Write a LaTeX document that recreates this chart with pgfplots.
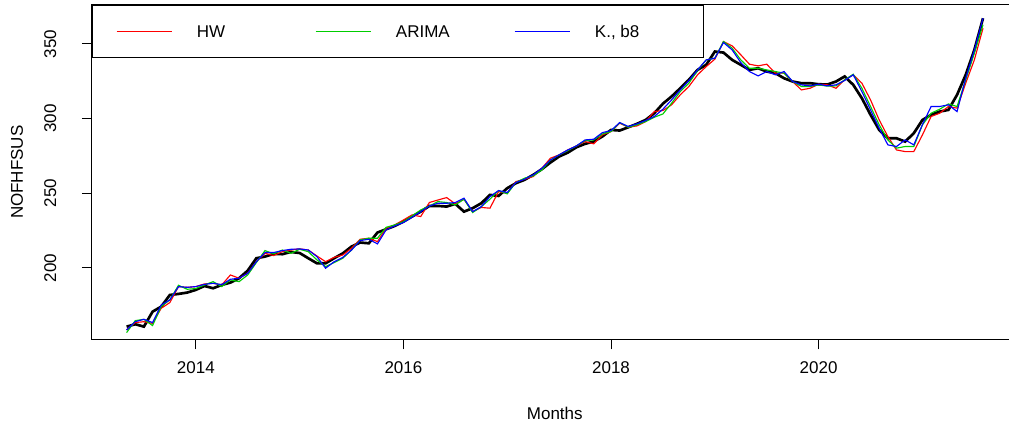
\documentclass[border=0pt]{standalone}
\usepackage{fontspec}
\setmainfont{Liberation Sans}
\usepackage{xcolor}
\usepackage{pgfplots}
\usepackage{pgfplotstable}
\pgfplotsset{compat=1.18}
\definecolor{rred}{RGB}{255,0,0}
\definecolor{rgreen}{RGB}{0,205,0}
\definecolor{rblue}{RGB}{0,0,255}

% i = month index (0 = May 2013); A = actual, H = HW, G = ARIMA, K = K., b8
\pgfplotstableread{
i A H G K
0 160.7 158.5 156.7 158.5
1 162.3 163.4 164.7 164.0
2 160.7 164.0 165.6 165.6
3 170.7 162.9 161.4 163.4
4 174.1 173.0 174.1 175.2
5 181.9 176.8 178.6 178.6
6 182.6 187.5 188.4 187.5
7 183.5 187.0 185.7 187.0
8 185.3 187.5 186.2 187.5
9 187.9 189.3 188.6 189.0
10 186.4 189.7 190.8 189.7
11 188.6 188.6 187.5 188.8
12 190.2 195.3 192.0 192.4
13 193.1 193.1 190.8 193.1
14 198.2 196.4 195.3 196.4
15 206.5 204.2 203.6 204.2
16 207.6 209.8 211.6 210.3
17 209.4 208.3 209.4 210.3
18 209.2 210.9 212.0 211.6
19 210.7 212.0 209.8 212.5
20 210.0 212.8 212.5 212.7
21 206.5 212.0 210.9 212.0
22 203.1 208.0 205.4 207.6
23 203.1 204.2 200.9 199.8
24 206.5 207.1 203.6 204.2
25 209.8 208.7 206.5 207.1
26 214.3 213.2 212.0 212.0
27 217.0 219.2 218.8 218.3
28 216.5 219.9 219.9 219.2
29 223.7 217.6 219.9 216.1
30 225.9 226.6 227.2 225.5
31 228.1 228.8 228.8 228.1
32 231.0 232.1 231.0 230.4
33 234.4 235.5 234.8 233.9
34 237.7 234.4 238.8 237.7
35 241.5 243.8 241.5 241.5
36 241.5 245.5 244.4 243.3
37 241.1 247.1 243.8 243.3
38 242.9 242.9 242.2 243.8
39 237.7 246.0 246.0 246.7
40 240.0 237.7 237.1 237.7
41 243.3 240.5 241.0 241.0
42 248.9 240.0 246.0 247.8
43 248.2 251.1 251.8 251.8
44 253.4 250.0 249.6 250.5
45 256.7 257.8 257.2 257.2
46 259.0 259.4 260.1 259.4
47 262.3 261.2 261.6 262.3
48 266.1 266.7 265.6 266.7
49 270.6 273.5 272.3 272.3
50 274.6 275.7 275.7 275.7
51 277.2 279.0 278.6 279.0
52 280.8 281.7 281.7 281.7
53 283.1 284.6 285.3 285.7
54 284.6 283.1 285.7 286.2
55 288.0 289.1 289.7 290.6
56 292.4 291.3 291.3 292.0
57 292.0 296.9 297.3 297.3
58 294.2 294.2 294.2 294.7
59 296.5 295.1 295.8 296.5
60 299.1 298.0 298.0 298.7
61 303.6 304.7 300.9 301.4
62 310.0 305.4 303.1 306.3
63 314.8 309.2 310.3 312.5
64 320.3 315.9 318.1 319.2
65 326.0 321.5 323.7 325.5
66 332.6 329.3 332.2 332.6
67 336.0 334.8 339.3 339.3
68 344.9 339.8 340.4 340.4
69 344.2 351.6 351.6 350.9
70 339.3 348.7 347.1 346.0
71 336.0 342.7 339.3 337.5
72 332.6 336.4 333.7 331.5
73 333.7 335.3 333.7 328.6
74 331.5 336.4 332.6 331.5
75 330.4 330.4 331.5 329.3
76 327.0 330.4 330.4 331.5
77 324.8 324.8 324.8 324.8
78 323.7 319.2 321.5 322.6
79 323.7 320.3 321.5 321.9
80 323.0 323.0 322.6 323.0
81 322.8 322.6 321.7 321.9
82 324.8 320.3 321.9 322.6
83 328.2 325.9 325.9 325.5
84 322.6 329.3 329.7 329.3
85 313.6 323.7 320.3 318.1
86 302.5 312.5 308.1 305.8
87 292.4 299.1 295.8 293.5
88 286.8 288.0 285.7 282.4
89 286.8 279.0 280.2 281.3
90 284.6 277.9 281.3 285.7
91 290.2 277.9 281.3 282.4
92 299.1 289.1 295.8 296.0
93 302.5 301.4 303.6 308.1
94 304.7 303.6 306.3 308.1
95 305.8 308.1 309.8 309.2
96 315.9 307.0 308.1 304.7
97 329.3 323.7 325.9 327.0
98 346.0 339.3 343.8 346.0
99 367.2 360.5 362.8 367.2
}\data

\newcommand{\rfont}{\fontsize{12.75}{15}\selectfont}
\newcommand{\lkey}[3]{\makebox[#3][l]{\strut\textcolor{#1}{\rule[4.1pt]{41.25pt}{1pt}}\hspace{19.1pt}#2}}

\begin{document}
\begin{tikzpicture}
\path[use as bounding box] (-69pt,-66.4pt) rectangle (687.75pt,254.6pt);
\begin{axis}[
  at={(0pt,0pt)}, anchor=south west,
  scale only axis,
  width=694.2pt, height=250.9pt,
  xmin=-4, xmax=103, ymin=152.1, ymax=376.1,
  axis line style={line width=0.75pt, black},
  xtick={8,32,56,80}, xticklabels={2014,2016,2018,2020},
  ytick={200,250,300,350},
  yticklabels={\rotatebox{90}{200},\rotatebox{90}{250},\rotatebox{90}{300},\rotatebox{90}{350}},
  xtick pos=bottom, ytick pos=left,
  tick align=outside, major tick length=7.5pt,
  tick style={black, line width=0.75pt},
  minor tick num=0,
  /pgf/number format/assume math mode=true,
  every tick label/.append style={font=\rfont, black},
  xticklabel style={anchor=north, inner sep=0pt, yshift=-9pt},
  yticklabel style={anchor=east, inner sep=0pt, xshift=-19pt},
  label style={font=\rfont},
  xlabel={Months},
  ylabel={NOFHFSUS},
  xlabel style={at={(axis description cs:0.5,-0.2197)}, anchor=center},
  ylabel style={at={(axis description cs:-0.081,0.5)}, anchor=center},
  legend columns=3,
  legend cell align=left,
  legend style={at={(0,1)}, anchor=north west, line width=0.75pt,
    fill=white, font=\rfont, inner xsep=18pt, inner ysep=13.5pt,
    nodes={inner sep=0pt}, column sep=0pt},
  legend image code/.code={},
]
\addplot[black, line width=2pt, forget plot] table[x=i, y=A] {\data};
\addplot[draw=rred, line width=0.85pt] table[x=i, y=H] {\data};
\addlegendentry{\lkey{rred}{HW}{149.25pt}}
\addplot[draw=rgreen, line width=0.85pt] table[x=i, y=G] {\data};
\addlegendentry{\lkey{rgreen}{ARIMA}{149.25pt}}
\addplot[draw=rblue, line width=0.85pt] table[x=i, y=K] {\data};
\addlegendentry{\lkey{rblue}{K., b8}{123.75pt}}
\end{axis}
\end{tikzpicture}
\end{document}
